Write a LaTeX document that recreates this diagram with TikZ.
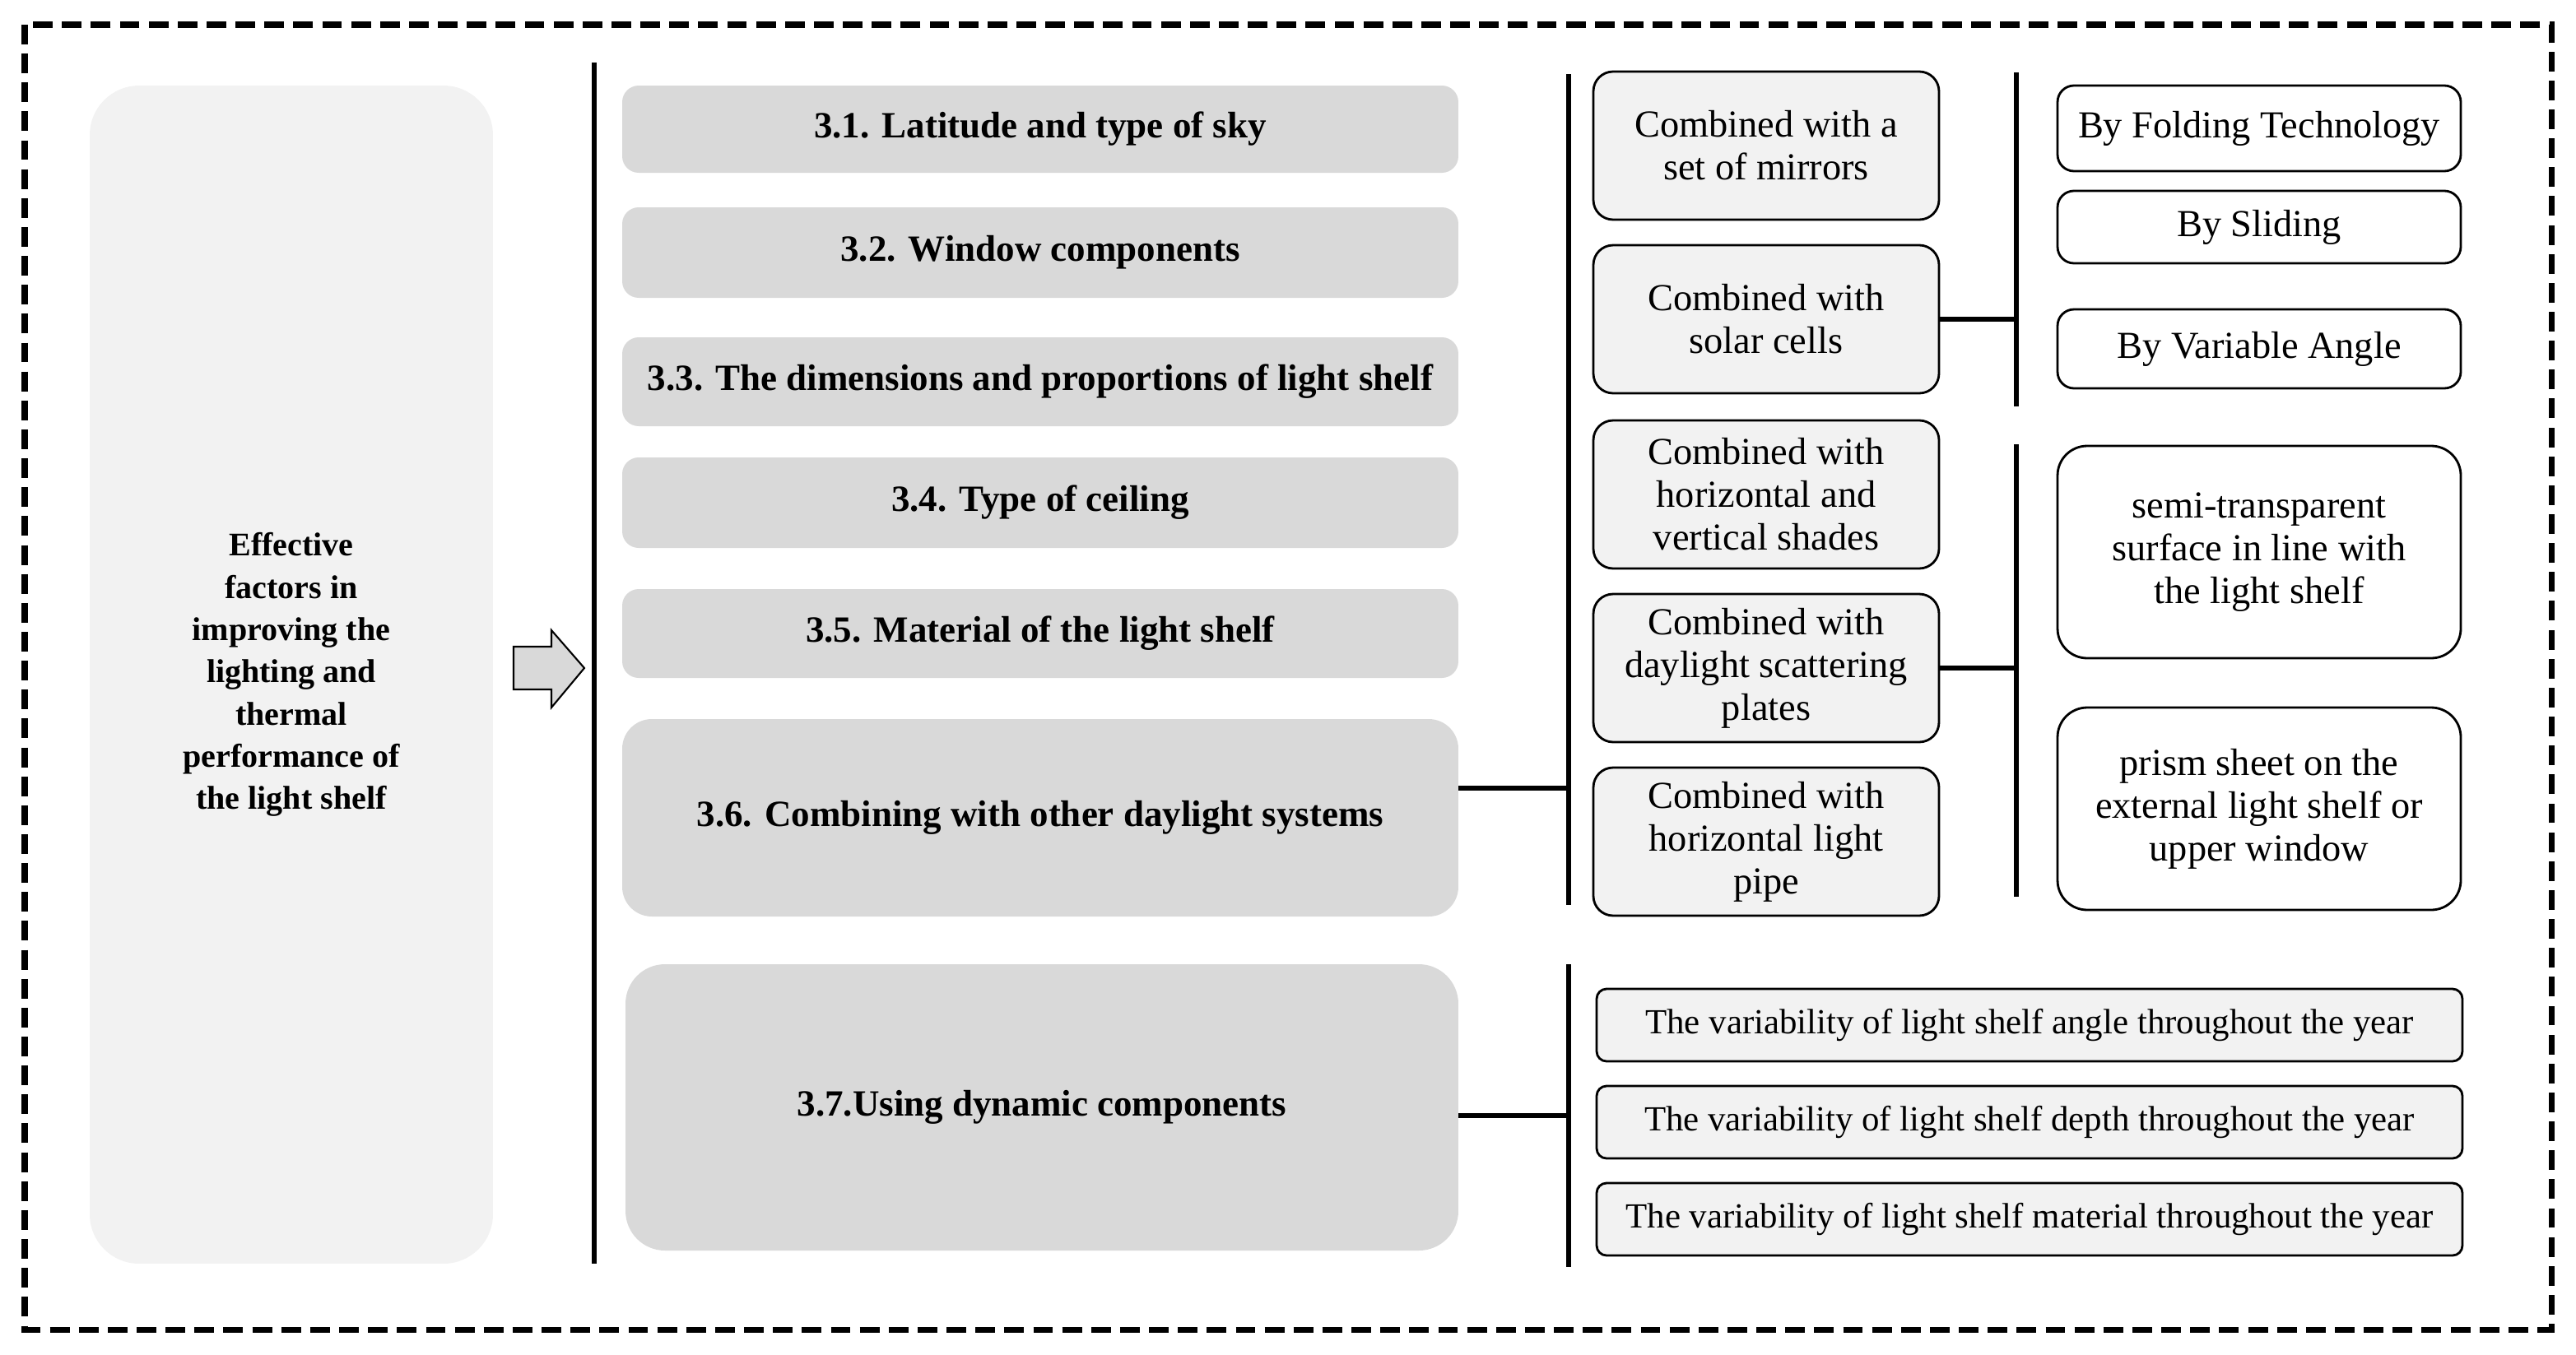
\documentclass[tikz,border=0pt]{standalone}
\usepackage{fontspec}
\setmainfont{Liberation Serif}
\definecolor{factorGray}{HTML}{D9D9D9}
\definecolor{paleGray}{HTML}{F2F2F2}
\tikzset{
  factor/.style = {fill = factorGray, rounded corners = 0.5cm, font = \fontsize{32}{38}\selectfont\bfseries,
    minimum width = 25.4cm, inner sep = 0pt},
  combo/.style = {draw, line width = 2pt, fill = paleGray, rounded corners = 0.6cm, align = center,
    minimum width = 10.5cm, minimum height = 4.5cm, inner sep = 0pt, font = \fontsize{33}{37}\selectfont},
  option/.style = {draw, line width = 2pt, rounded corners = 0.5cm, align = center,
    minimum width = 12.25cm, inner sep = 0pt, font = \fontsize{33}{37}\selectfont},
  dynamic/.style = {draw, line width = 2pt, fill = paleGray, rounded corners = 0.3cm,
    minimum width = 26.3cm, minimum height = 2.2cm, inner sep = 0pt, font = \fontsize{30.5}{36}\selectfont},
  bar/.style = {line width = 4pt},
}
\begin{document}
\begin{tikzpicture}[x = 0.05cm, y = -0.05cm]
  \useasboundingbox (0,0) rectangle (1565,823);
  %% frame
  \draw [line width = 5pt, dash pattern = on 17pt off 8pt] (15,15) rectangle (1550,808);
  %% main topic
  \node (topic) [fill = paleGray, rounded corners = 1.5cm, minimum width = 12.25cm, minimum height = 35.8cm,
    align = center, font = \fontsize{28.5}{36.5}\selectfont\bfseries] at (177,410)
    {Effective\\factors in\\improving the\\lighting and\\thermal\\performance of\\the light shelf};
  %% arrow
  \coordinate (arrowTip) at (355,406);
  \draw [line width = 1.5pt, fill = factorGray]
    (312,393) -- (335,393) -- (335,383) -- (arrowTip) -- (335,430) -- (335,419) -- (312,419) -- cycle;
  \coordinate (spineTop) at (361,38);
  \coordinate (spineBot) at (361,768);
  \draw [bar] (spineTop) -- (spineBot);
  %% factors
  \node (f1) [factor, minimum height = 2.65cm] at (632,78.5) {3.1. Latitude and type of sky};
  \node (f2) [factor, minimum height = 2.75cm] at (632,153.5) {3.2. Window components};
  \node (f3) [factor, minimum height = 2.7cm] at (632,232) {3.3. The dimensions and proportions of light shelf};
  \node (f4) [factor, minimum height = 2.75cm] at (632,305.5) {3.4. Type of ceiling};
  \node (f5) [factor, minimum height = 2.7cm] at (632,385) {3.5. Material of the light shelf};
  \node (f6) [factor, minimum height = 6cm, rounded corners = 0.9cm] at (632,497) {3.6. Combining with other daylight systems};
  \node (f7) [factor, minimum height = 8.7cm, minimum width = 25.3cm, rounded corners = 1.2cm] at (633,673) {3.7.Using dynamic components};
  %% combined systems
  \coordinate (comboTop) at (953,45);
  \coordinate (comboBot) at (953,550);
  \draw [bar] (comboTop) -- (comboBot);
  \draw [bar] (f6.east |- 0,479) -- (953,479);
  \node (c1) [combo] at (1073,88.5) {Combined with a\\set of mirrors};
  \node (c2) [combo] at (1073,194) {Combined with\\solar cells};
  \node (c3) [combo] at (1073,300.5) {Combined with\\horizontal and\\vertical shades};
  \node (c4) [combo] at (1073,406) {Combined with\\daylight scattering\\plates};
  \node (c5) [combo] at (1073,511.5) {Combined with\\horizontal light\\pipe};
  %% solar cell options
  \coordinate (solarTop) at (1225,44);
  \coordinate (solarBot) at (1225,247);
  \draw [bar] (solarTop) -- (solarBot);
  \draw [bar] (c2.east) -- (c2.east -| solarTop);
  \node (o1) [option, minimum height = 2.6cm] at (1372.5,78) {By Folding Technology};
  \node (o2) [option, minimum height = 2.2cm] at (1372.5,138) {By Sliding};
  \node (o3) [option, minimum height = 2.4cm] at (1372.5,212) {By Variable Angle};
  %% scattering plate options
  \coordinate (plateTop) at (1225,270);
  \coordinate (plateBot) at (1225,545);
  \draw [bar] (plateTop) -- (plateBot);
  \draw [bar] (c4.east) -- (c4.east -| plateTop);
  \node (o4) [option, minimum height = 6.45cm, rounded corners = 0.9cm] at (1372.5,335.5)
    {semi-transparent\\surface in line with\\the light shelf};
  \node (o5) [option, minimum height = 6.15cm, rounded corners = 0.9cm] at (1372.5,491.5)
    {prism sheet on the\\external light shelf or\\upper window};
  %% dynamic components
  \coordinate (dynTop) at (953,586);
  \coordinate (dynBot) at (953,770);
  \draw [bar] (dynTop) -- (dynBot);
  \draw [bar] (f7.east |- 0,678) -- (953,678);
  \node (d1) [dynamic] at (1233,623) {The variability of light shelf angle throughout the year};
  \node (d2) [dynamic] at (1233,682) {The variability of light shelf depth throughout the year};
  \node (d3) [dynamic] at (1233,741) {The variability of light shelf material throughout the year};
\end{tikzpicture}
\end{document}
